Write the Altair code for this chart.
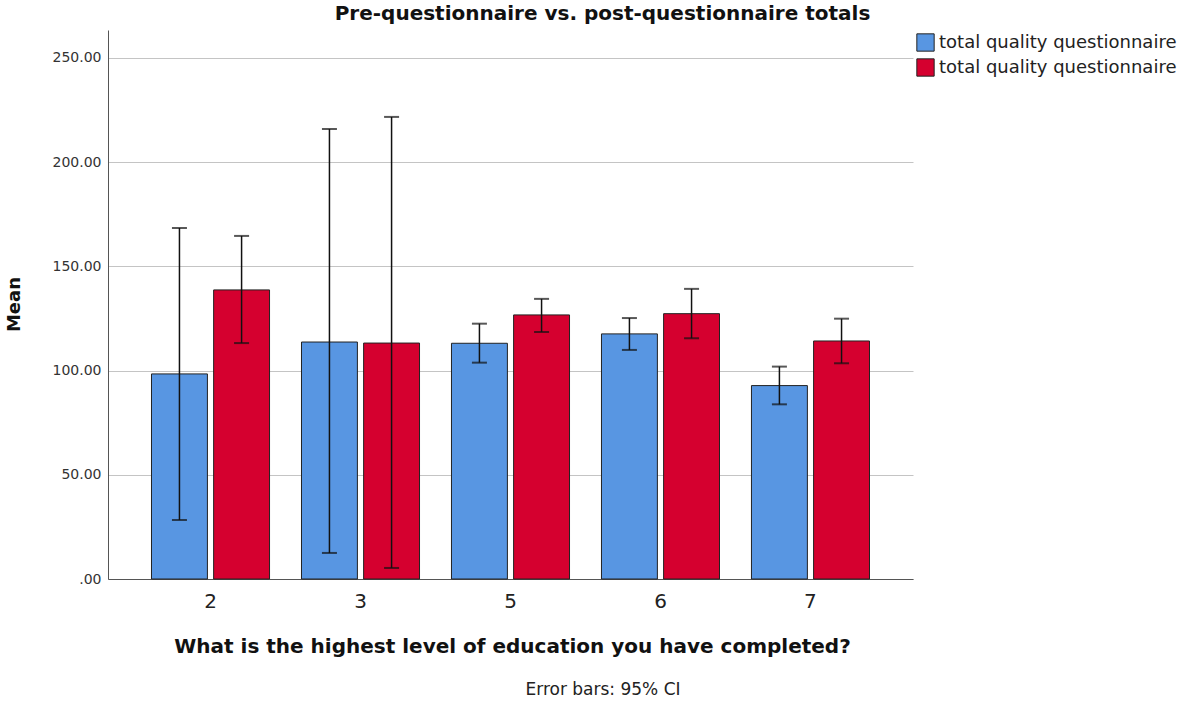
import altair as alt
import pandas as pd

categories = ["2", "3", "5", "6", "7"]
pre_mean = [98.4, 113.7, 113.1, 117.6, 92.8]
pre_lo = [28.3, 12.5, 103.8, 109.9, 83.8]
pre_hi = [168.4, 215.9, 122.5, 125.2, 101.9]
post_mean = [138.7, 113.2, 126.7, 127.3, 114.2]
post_lo = [113.2, 5.3, 118.5, 115.5, 103.5]
post_hi = [164.6, 221.7, 134.4, 139.2, 124.9]
series = ["pre", "post"]
legend_label = "total quality questionnaire"

rows = []
for i, c in enumerate(categories):
    rows.append({"cat": c, "series": "pre", "mean": pre_mean[i], "lo": pre_lo[i], "hi": pre_hi[i]})
    rows.append({"cat": c, "series": "post", "mean": post_mean[i], "lo": post_lo[i], "hi": post_hi[i]})
df = pd.DataFrame(rows)

FONT = "DejaVu Sans"

x_enc = alt.X(
    "cat:N",
    sort=categories,
    scale=alt.Scale(paddingInner=0.213, paddingOuter=0.29),
    axis=alt.Axis(
        title="What is the highest level of education you have completed?",
        titleFontSize=20, titleFontWeight="bold", titleColor="#111", titleFont=FONT,
        titleX=404, titleY=67, titleBaseline="middle", titleAlign="center",
        labelFontSize=20, labelColor="#222", labelFont=FONT, labelAngle=0, labelPadding=12,
        ticks=False, domainColor="#555", domainWidth=1, grid=False,
    ),
)
xoff = alt.XOffset("series:N", sort=series, scale=alt.Scale(domain=series, paddingInner=0.1))
y_scale = alt.Scale(domain=[0, 263.4], nice=False)

bars = alt.Chart(df).mark_bar(stroke="#222", strokeWidth=1).encode(
    x=x_enc,
    xOffset=xoff,
    y=alt.Y(
        "mean:Q",
        scale=y_scale,
        axis=alt.Axis(
            title="Mean", titleFontSize=18, titleFontWeight="bold", titleColor="#111", titleFont=FONT,
            titleAngle=270, titleX=-94, titleY=274, titleAlign="center", titleBaseline="middle",
            values=[0, 50, 100, 150, 200, 250],
            labelExpr="datum.value == 0 ? '.00' : format(datum.value, '.2f')",
            labelFontSize=14, labelColor="#333", labelFont=FONT, labelPadding=7,
            ticks=False, domainColor="#555", gridColor="#c4c4c4", gridWidth=1,
        ),
    ),
    color=alt.Color(
        "series:N",
        scale=alt.Scale(domain=series, range=["#5896e2", "#d5002f"]),
        legend=alt.Legend(
            title=None, orient="none", legendX=808, legendY=3,
            symbolType="square", symbolSize=300, symbolStrokeColor="#222", symbolStrokeWidth=1,
            symbolOpacity=1,
            labelExpr="'" + legend_label + "'",
            labelFontSize=18, labelColor="#222", labelFont=FONT, labelOffset=4, rowPadding=2,
            labelLimit=0,
        ),
    ),
)

rules = alt.Chart(df).mark_rule(color="#111", strokeWidth=1.5).encode(
    x=alt.X("cat:N", sort=categories), xOffset=xoff, y="lo:Q", y2="hi:Q"
)
cap_hi = alt.Chart(df).mark_tick(color="#111", size=15, thickness=2).encode(
    x=alt.X("cat:N", sort=categories), xOffset=xoff, y="hi:Q"
)
cap_lo = alt.Chart(df).mark_tick(color="#111", size=15, thickness=2).encode(
    x=alt.X("cat:N", sort=categories), xOffset=xoff, y="lo:Q"
)

caption = alt.Chart(pd.DataFrame({"t": ["Error bars: 95% CI"]})).mark_text(
    fontSize=17, color="#222", font=FONT, baseline="middle", align="center"
).encode(x=alt.value(495), y=alt.value(660), text="t:N")

chart = alt.layer(bars, rules, cap_hi, cap_lo, caption).properties(
    width=805,
    height=549,
    background="white",
    title=alt.TitleParams(
        "Pre-questionnaire vs. post-questionnaire totals",
        fontSize=20, fontWeight="bold", color="#111", font=FONT,
        anchor="middle", dx=92, offset=6,
    ),
    autosize=alt.AutoSizeParams(type="none"),
    padding={"left": 108, "top": 30, "right": 268, "bottom": 123},
).configure_view(stroke=None, strokeWidth=0)

chart.save("out.html", embed_options={"renderer": "svg", "actions": False})
